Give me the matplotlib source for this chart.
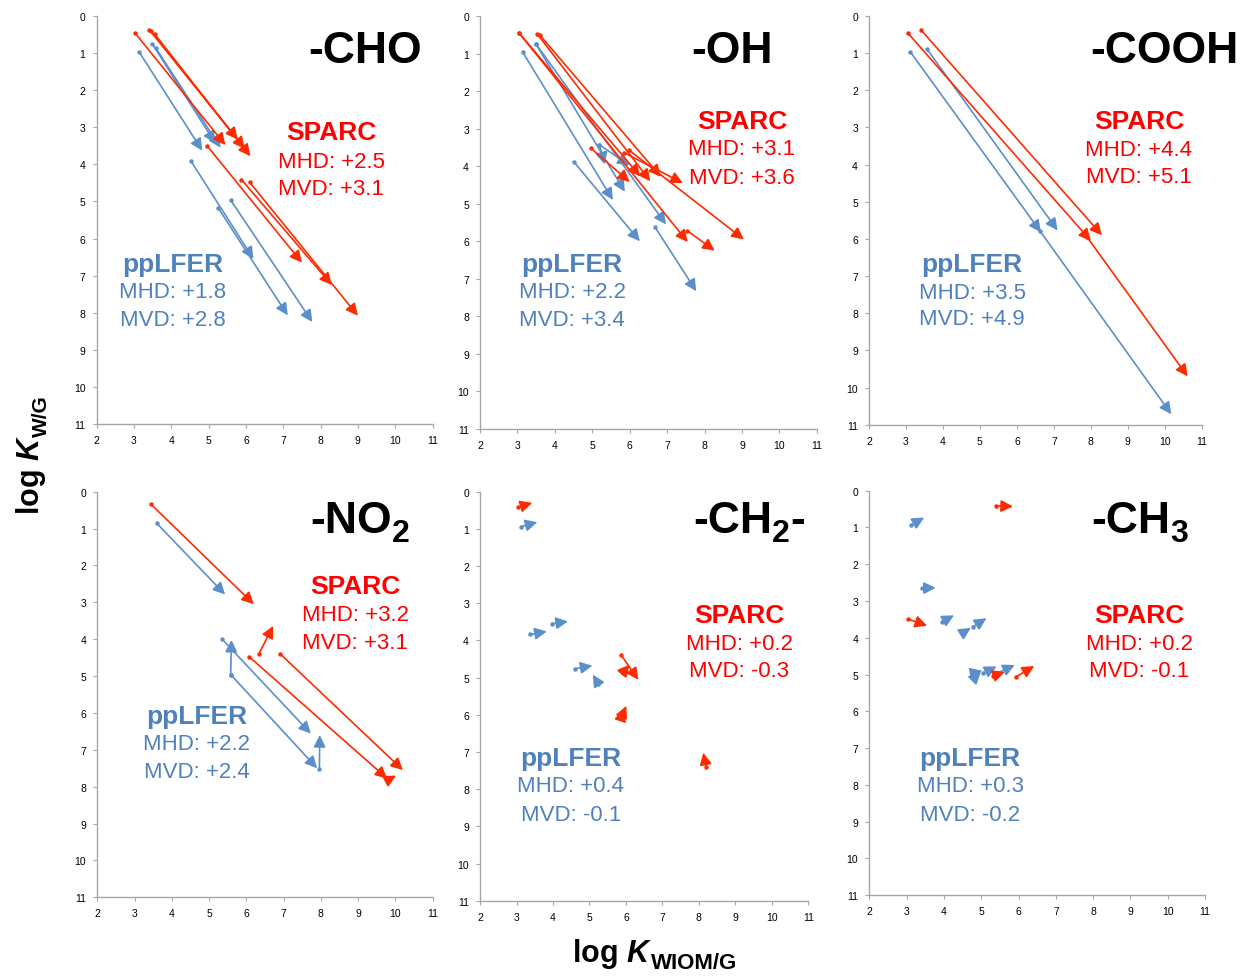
import matplotlib
matplotlib.use("Agg")
import matplotlib.pyplot as plt

plt.rcParams["font.family"] = ["Liberation Sans", "DejaVu Sans"]
plt.rcParams["mathtext.fontset"] = "custom"
plt.rcParams["mathtext.rm"] = "Liberation Sans:bold"
plt.rcParams["mathtext.it"] = "Liberation Sans:italic:bold"
plt.rcParams["mathtext.bf"] = "Liberation Sans:bold"

# arrows: (start x, start y, end x, end y) in log K units
CHO_SPARC = [(3.03, 0.46, 5.45, 3.48), (3.41, 0.37, 5.78, 3.33), (3.45, 0.40, 5.97, 3.58),
             (3.55, 0.48, 6.12, 3.78), (4.96, 3.50, 7.50, 6.65), (5.88, 4.41, 8.30, 7.25),
             (6.10, 4.48, 9.00, 8.08)]
CHO_PPLFER = [(3.14, 0.97, 4.83, 3.63), (3.49, 0.75, 5.18, 3.43), (3.59, 0.87, 5.32, 3.55),
              (4.52, 3.90, 6.20, 6.55), (5.26, 5.18, 7.12, 8.07), (5.59, 4.96, 7.78, 8.25)]

OH_SPARC = [(3.04, 0.45, 7.55, 6.02), (4.96, 3.52, 6.00, 4.42), (3.04, 0.45, 6.28, 4.27),
            (3.53, 0.48, 6.55, 4.40), (3.60, 0.51, 6.83, 4.28), (5.85, 3.64, 7.42, 4.45),
            (7.54, 5.72, 8.27, 6.25), (5.98, 3.57, 9.05, 5.95)]
OH_PPLFER = [(3.14, 0.96, 5.55, 4.90), (3.49, 0.74, 5.87, 4.68), (3.49, 0.74, 6.97, 5.55),
             (5.19, 3.43, 5.33, 3.95), (5.19, 3.43, 6.00, 3.98), (4.52, 3.90, 6.27, 6.00),
             (6.68, 5.63, 7.78, 7.33)]

COOH_SPARC = [(3.05, 0.46, 8.00, 6.05), (3.41, 0.38, 8.30, 5.90), (7.90, 5.95, 10.62, 9.70)]
COOH_PPLFER = [(3.12, 0.97, 6.65, 5.82), (3.56, 0.88, 7.10, 5.77), (6.62, 5.78, 10.18, 10.72)]

NO2_SPARC = [(3.43, 0.33, 6.20, 3.05), (6.34, 4.39, 6.72, 3.64), (6.07, 4.47, 9.78, 7.78),
             (6.90, 4.39, 10.20, 7.55), (9.80, 7.82, 10.02, 7.70)]
NO2_PPLFER = [(3.59, 0.85, 5.43, 2.79), (5.35, 4.00, 7.73, 6.56), (5.58, 4.96, 5.60, 4.02),
              (5.58, 4.96, 7.90, 7.50), (7.96, 7.52, 7.97, 6.60)]

CH2_SPARC = [(3.03, 0.42, 3.43, 0.30), (5.86, 4.38, 6.34, 5.06), (5.91, 4.87, 6.10, 4.65),
             (5.89, 6.03, 6.01, 5.76), (5.87, 6.08, 5.95, 5.85), (8.20, 7.41, 8.12, 7.02)]
CH2_PPLFER = [(3.12, 0.94, 3.57, 0.82), (3.37, 3.84, 3.83, 3.76), (3.97, 3.55, 4.41, 3.49),
              (4.61, 4.76, 5.08, 4.68), (5.24, 5.16, 5.09, 4.92)]

CH3_SPARC = [(5.39, 0.41, 5.85, 0.43), (3.03, 3.49, 3.55, 3.67), (5.32, 5.04, 5.63, 4.93),
             (5.92, 5.07, 6.42, 4.77)]
CH3_PPLFER = [(3.13, 0.93, 3.47, 0.73), (3.42, 2.65, 3.78, 2.64), (3.96, 3.56, 4.27, 3.39),
              (4.52, 3.86, 4.72, 3.73), (4.78, 3.70, 5.14, 3.47), (4.74, 4.97, 5.03, 4.90),
              (4.81, 5.11, 4.99, 4.93), (5.06, 4.96, 5.41, 4.78), (5.46, 4.95, 5.90, 4.74)]

# group label split into (main, subscript, trailing)
GROUPS = [("-CHO", "", ""), ("-OH", "", ""), ("-COOH", "", ""),
          ("-NO", "2", ""), ("-CH", "2", "-"), ("-CH", "3", "")]
SPARC_MHD = ["+2.5", "+3.1", "+4.4", "+3.2", "+0.2", "+0.2"]
SPARC_MVD = ["+3.1", "+3.6", "+5.1", "+3.1", "-0.3", "-0.1"]
PPLFER_MHD = ["+1.8", "+2.2", "+3.5", "+2.2", "+0.4", "+0.3"]
PPLFER_MVD = ["+2.8", "+3.4", "+4.9", "+2.4", "-0.1", "-0.2"]
SPARC_ARROWS = [CHO_SPARC, OH_SPARC, COOH_SPARC, NO2_SPARC, CH2_SPARC, CH3_SPARC]
PPLFER_ARROWS = [CHO_PPLFER, OH_PPLFER, COOH_PPLFER, NO2_PPLFER, CH2_PPLFER, CH3_PPLFER]

RED = "#ff2a00"
BLUE = "#5b8fcb"
TXT_RED = "#ff0000"
TXT_BLUE = "#4f81bd"
GREY = "#a6a6a6"

# layout (figure fractions and data-space text anchors)
AX_POS = [[0.0777, 0.5654, 0.2700, 0.4172], [0.3859, 0.5603, 0.2707, 0.4223],
          [0.6986, 0.5647, 0.2674, 0.4179], [0.0782, 0.0815, 0.2696, 0.4147],
          [0.3859, 0.0780, 0.2639, 0.4182], [0.6988, 0.0838, 0.2699, 0.4134]]
# (x, y, ha) of the group label baseline
TITLE_XY = [(10.71, 1.25, "right"), (9.83, 1.23, "right"), (12.0, 1.25, "right"),
            (7.71, 1.10, "left"), (7.84, 1.09, "left"), (7.96, 1.13, "left")]
SPARC_XY = [(8.28, (3.13, 3.91, 4.66)), (9.00, (2.80, 3.52, 4.29)), (9.30, (2.83, 3.58, 4.33)),
            (8.92, (2.55, 3.32, 4.08)), (9.10, (3.31, 4.07, 4.81)), (9.23, (3.37, 4.15, 4.90))]
PPLFER_XY = [(4.04, (6.69, 7.44, 8.17)), (4.46, (6.60, 7.35, 8.07)), (4.79, (6.68, 7.43, 8.15)),
             (4.66, (6.08, 6.84, 7.59)), (4.49, (7.17, 7.89, 8.67)), (4.70, (7.28, 8.01, 8.80))]

fig = plt.figure(figsize=(12.44, 9.78), dpi=100)

ARROW = "-|>,head_length=0.6,head_width=0.3"


def draw_arrows(ax, arrows, color):
    for x0, y0, x1, y1 in arrows:
        ax.annotate("", xy=(x1, y1), xytext=(x0, y0),
                    arrowprops=dict(arrowstyle=ARROW, color=color, lw=1.2,
                                    shrinkA=0, shrinkB=0, mutation_scale=12))
    ax.plot([a[0] for a in arrows], [a[1] for a in arrows], "o", ms=3.2,
            color=color, mec="none")


for i in range(6):
    ax = fig.add_axes(AX_POS[i])
    ax.set_xlim(2, 11)
    ax.set_ylim(11, 0)
    ax.set_xticks(range(2, 12))
    ax.set_yticks(range(0, 12))
    for s in ("top", "right"):
        ax.spines[s].set_visible(False)
    for s in ("left", "bottom"):
        ax.spines[s].set_color(GREY)
        ax.spines[s].set_linewidth(1.0)
    ax.tick_params(direction="out", length=3, width=0.8, color=GREY,
                   labelsize=7.5, labelcolor="black", pad=5)

    draw_arrows(ax, PPLFER_ARROWS[i], BLUE)
    draw_arrows(ax, SPARC_ARROWS[i], RED)

    tx, ty, tha = TITLE_XY[i]
    main, sub, tail = GROUPS[i]
    t = ax.text(tx, ty, main, fontsize=32, fontweight="bold", ha=tha,
                va="baseline", color="black")
    if sub:
        s_art = ax.annotate(sub, xy=(1, 0), xycoords=t, xytext=(0, -5),
                            textcoords="offset points", fontsize=23,
                            fontweight="bold", ha="left", va="bottom")
        if tail:
            ax.annotate(tail, xy=(1, 0), xycoords=(s_art, t), xytext=(0, 0),
                        textcoords="offset points", fontsize=32,
                        fontweight="bold", ha="left", va="bottom")

    sx, (s0, s1, s2) = SPARC_XY[i]
    ax.text(sx, s0, "SPARC", fontsize=19, fontweight="bold", color=TXT_RED,
            ha="center", va="center")
    ax.text(sx, s1, "MHD: " + SPARC_MHD[i], fontsize=16, color=TXT_RED,
            ha="center", va="center")
    ax.text(sx, s2, "MVD: " + SPARC_MVD[i], fontsize=16, color=TXT_RED,
            ha="center", va="center")

    px, (p0, p1, p2) = PPLFER_XY[i]
    ax.text(px, p0, "ppLFER", fontsize=19, fontweight="bold", color=TXT_BLUE,
            ha="center", va="center")
    ax.text(px, p1, "MHD: " + PPLFER_MHD[i], fontsize=16, color=TXT_BLUE,
            ha="center", va="center")
    ax.text(px, p2, "MVD: " + PPLFER_MVD[i], fontsize=16, color=TXT_BLUE,
            ha="center", va="center")

# axis titles: "log K" plus a larger-than-mathtext subscript
yl = fig.text(0.031, 0.473, r"log $\mathit{K}$", fontsize=22, fontweight="bold",
              rotation=90, rotation_mode="anchor", ha="left", va="baseline")
fig.add_artist(plt.Annotation("W/G", xy=(1, 1), xycoords=yl, xytext=(2.5, -1),
                              textcoords="offset points", fontsize=15,
                              fontweight="bold", rotation=90, ha="right",
                              va="bottom"))

xl = fig.text(0.46, 0.0164, r"log $\mathit{K}$", fontsize=22, fontweight="bold",
              ha="left", va="baseline")
fig.add_artist(plt.Annotation("WIOM/G", xy=(1, 0), xycoords=xl, xytext=(-1, -2.5),
                              textcoords="offset points", fontsize=16,
                              fontweight="bold", ha="left", va="bottom"))

fig.savefig("out.png", dpi=100)
